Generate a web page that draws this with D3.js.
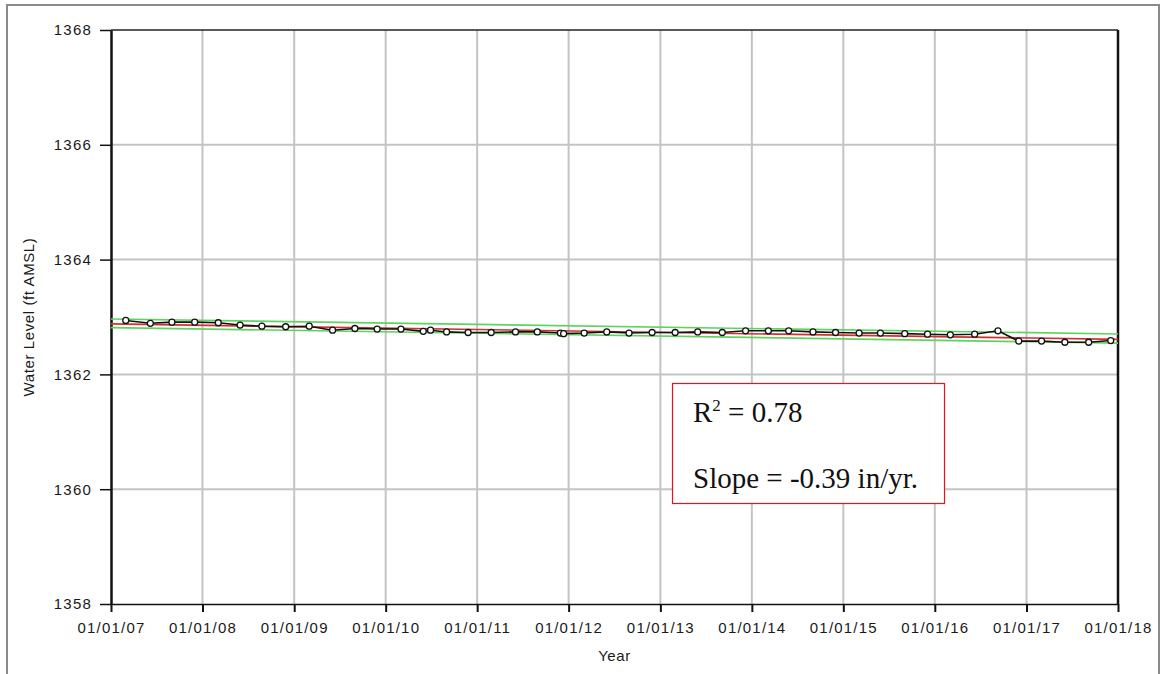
<!DOCTYPE html>
<html>
<head>
<meta charset="utf-8">
<script src="https://cdn.jsdelivr.net/npm/d3@7"></script>
<style>
  html, body { margin: 0; padding: 0; background: #fff; }
  svg { display: block; }
  .tick-label { font-family: "Liberation Sans", Arial, sans-serif; font-size: 15px; letter-spacing: 1.2px; fill: #1a1a1a; }
  .axis-title { font-family: "Liberation Sans", Arial, sans-serif; font-size: 15px; letter-spacing: 0.6px; fill: #1a1a1a; }
  .note { font-family: "Liberation Serif", "Times New Roman", serif; font-size: 29px; fill: #111; }
</style>
</head>
<body>
<svg id="chart" width="1162" height="674"></svg>
<script>
// water level hydrograph with linear trend + bounds

// sample dates and measured levels (ft AMSL)
const sampleDates = [
  '2007-03-01', '2007-06-07', '2007-09-01', '2007-12-01',
  '2008-03-04', '2008-05-30', '2008-08-25', '2008-11-28',
  '2009-03-02', '2009-06-03', '2009-08-31', '2009-11-28',
  '2010-03-03', '2010-05-31', '2010-06-29', '2010-09-01', '2010-11-26',
  '2011-02-26', '2011-06-03', '2011-08-29', '2011-11-29', '2011-12-12',
  '2012-03-03', '2012-06-01', '2012-08-29', '2012-11-29',
  '2013-03-01', '2013-05-30', '2013-09-05', '2013-12-07',
  '2014-03-08', '2014-05-28', '2014-09-02', '2014-12-01',
  '2015-03-05', '2015-05-29', '2015-09-03', '2015-12-03',
  '2016-03-03', '2016-06-08', '2016-09-09', '2016-12-01',
  '2017-03-02', '2017-06-03', '2017-09-06', '2017-12-03'
];
const waterLevels = [
  1362.94, 1362.89, 1362.91, 1362.91,
  1362.90, 1362.86, 1362.84, 1362.83,
  1362.84, 1362.77, 1362.80, 1362.79,
  1362.79, 1362.75, 1362.77, 1362.74, 1362.73,
  1362.73, 1362.74, 1362.74, 1362.72, 1362.71,
  1362.72, 1362.74, 1362.72, 1362.73,
  1362.73, 1362.74, 1362.73, 1362.76,
  1362.76, 1362.76, 1362.74, 1362.73,
  1362.72, 1362.72, 1362.71, 1362.70,
  1362.69, 1362.70, 1362.76, 1362.58,
  1362.58, 1362.56, 1362.56, 1362.59
];

// trend line and its bounds, values at start/end of the axis
const trendDates = ['2007-01-01', '2018-01-01'];
const trendLine = [1362.88, 1362.61];
const upperBound = [1362.965, 1362.705];
const lowerBound = [1362.815, 1362.545];

const yTicks = [1358, 1360, 1362, 1364, 1366, 1368];
const noteLines = ['0.78', 'Slope = -0.39 in/yr.'];

const parse = d3.timeParse('%Y-%m-%d');
const fmt = d3.timeFormat('%m/%d/%y');

const svg = d3.select('#chart');
const margin = { top: 30, right: 44, bottom: 70, left: 111 };
const width = 1162, height = 674;

const x = d3.scaleTime()
  .domain([parse('2007-01-01'), parse('2018-01-01')])
  .range([margin.left, width - margin.right]);
const y = d3.scaleLinear()
  .domain([1358, 1368])
  .range([height - margin.bottom, margin.top]);

const xTicks = x.ticks(d3.timeYear.every(1));

// outer gray frame
svg.append('rect')
  .attr('x', 7).attr('y', 5)
  .attr('width', 1152).attr('height', 690)
  .attr('fill', 'none')
  .attr('stroke', '#8a8a8a')
  .attr('stroke-width', 2);

// grid
const grid = svg.append('g').attr('stroke', '#c4c4c4').attr('stroke-width', 2);
grid.selectAll('.vg')
  .data(xTicks.slice(1, -1))
  .join('line')
    .attr('x1', d => x(d)).attr('x2', d => x(d))
    .attr('y1', y(1368)).attr('y2', y(1358));
grid.selectAll('.hg')
  .data(yTicks.slice(1, -1))
  .join('line')
    .attr('x1', x.range()[0]).attr('x2', x.range()[1])
    .attr('y1', d => y(d)).attr('y2', d => y(d));

// x axis
const xAxis = svg.append('g')
  .attr('transform', `translate(0,${y(1358)})`)
  .call(d3.axisBottom(x).tickValues(xTicks).tickFormat(fmt).tickSize(8).tickSizeOuter(0).tickPadding(10));
xAxis.select('.domain').attr('stroke', '#111').attr('stroke-width', 1.5);
xAxis.selectAll('.tick line').attr('stroke', '#111').attr('stroke-width', 2);
xAxis.selectAll('.tick text').attr('class', 'tick-label').attr('font-size', null).attr('font-family', null).attr('fill', null);

// y axis
const yAxis = svg.append('g')
  .attr('transform', `translate(${x.range()[0]},0)`)
  .call(d3.axisLeft(y).tickValues(yTicks).tickFormat(d3.format('d')).tickSize(11).tickSizeOuter(0).tickPadding(8));
yAxis.select('.domain').attr('stroke', '#111').attr('stroke-width', 2.5);
yAxis.selectAll('.tick line').attr('stroke', '#111').attr('stroke-width', 1.5);
yAxis.selectAll('.tick text').attr('class', 'tick-label').attr('font-size', null).attr('font-family', null).attr('fill', null);

// top and right plot border
svg.append('line')
  .attr('x1', x.range()[0]).attr('x2', x.range()[1])
  .attr('y1', y(1368)).attr('y2', y(1368))
  .attr('stroke', '#222').attr('stroke-width', 1.5);
svg.append('line')
  .attr('x1', x.range()[1]).attr('x2', x.range()[1])
  .attr('y1', y(1368)).attr('y2', y(1358))
  .attr('stroke', '#111').attr('stroke-width', 2.5);

// axis titles
svg.append('text')
  .attr('class', 'axis-title')
  .attr('x', (x.range()[0] + x.range()[1]) / 2)
  .attr('y', 661)
  .attr('text-anchor', 'middle')
  .text('Year');
svg.append('text')
  .attr('class', 'axis-title')
  .attr('transform', `translate(34,${(y(1358) + y(1368)) / 2}) rotate(-90)`)
  .attr('text-anchor', 'middle')
  .text('Water Level (ft AMSL)');

// trend + bounds
const line = d3.line().x(d => x(d[0])).y(d => y(d[1]));
const pairs = vals => trendDates.map((d, i) => [parse(d), vals[i]]);

svg.append('path')
  .attr('d', line(pairs(upperBound)))
  .attr('fill', 'none').attr('stroke', '#5fd35f').attr('stroke-width', 1.6);
svg.append('path')
  .attr('d', line(pairs(lowerBound)))
  .attr('fill', 'none').attr('stroke', '#5fd35f').attr('stroke-width', 1.6);
svg.append('path')
  .attr('d', line(pairs(trendLine)))
  .attr('fill', 'none').attr('stroke', '#d03030').attr('stroke-width', 1.6);

// measured series
const series = sampleDates.map((d, i) => [parse(d), waterLevels[i]]);
svg.append('path')
  .attr('d', line(series))
  .attr('fill', 'none').attr('stroke', '#111').attr('stroke-width', 1.6);
svg.append('g')
  .selectAll('circle')
  .data(series)
  .join('circle')
    .attr('cx', d => x(d[0]))
    .attr('cy', d => y(d[1]))
    .attr('r', 3)
    .attr('fill', '#fff')
    .attr('stroke', '#111')
    .attr('stroke-width', 1.3);

// stats box
svg.append('rect')
  .attr('x', 672.5).attr('y', 383.5)
  .attr('width', 272).attr('height', 120)
  .attr('fill', '#fff')
  .attr('stroke', '#e8141c')
  .attr('stroke-width', 1.2);

const r2 = svg.append('text').attr('class', 'note').attr('x', 693).attr('y', 422);
r2.append('tspan').text('R');
r2.append('tspan').attr('font-size', 17).attr('dy', -11).text('2');
r2.append('tspan').attr('dy', 11).text(' = ' + noteLines[0]);

svg.append('text').attr('class', 'note').attr('x', 693).attr('y', 488).text(noteLines[1]);
</script>
</body>
</html>
